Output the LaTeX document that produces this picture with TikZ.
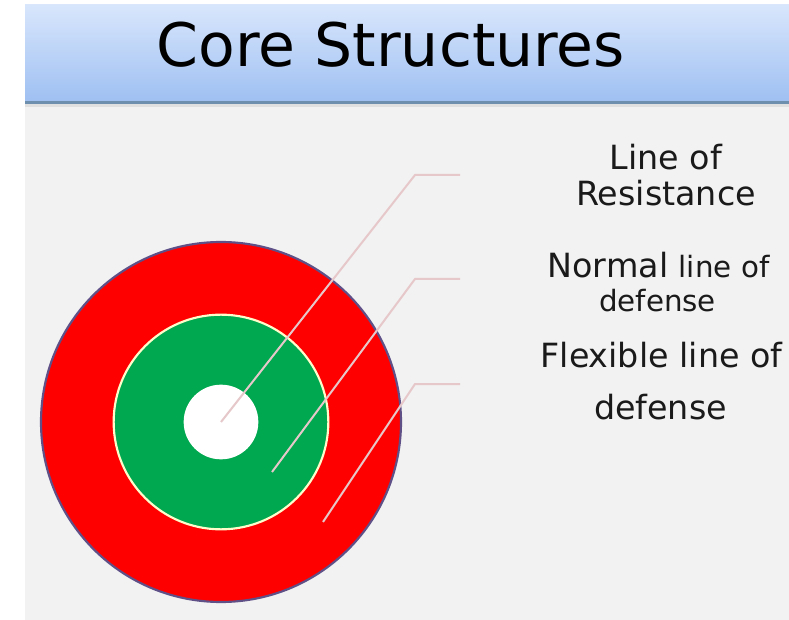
\documentclass[tikz,border=0pt]{standalone}
\usepackage{fontspec}
\setmainfont{DejaVu Sans}
\definecolor{bgpanel}{HTML}{F2F2F2}
\definecolor{ringred}{HTML}{FF0000}
\definecolor{ringgreen}{HTML}{00A94F}
\definecolor{ringedge}{HTML}{5F5088}
\definecolor{leader}{HTML}{E6C8CA}
\definecolor{headtop}{HTML}{D8E6FC}
\definecolor{headbot}{HTML}{9FC0F2}
\definecolor{headline}{HTML}{6F8FAF}
\definecolor{inktext}{HTML}{1A1A1A}
\tikzset{
 px/.style={x=0.75pt,y=-0.75pt},
 leaderline/.style={draw=leader,line width=1.5pt},
 lab/.style={align=center,text=inktext,inner sep=0pt},
 bigtext/.style={lab,font=\fontsize{25}{30}\selectfont},
 smalltext/.style={lab,font=\fontsize{22}{26}\selectfont},
}
\begin{document}
\begin{tikzpicture}[px]
\useasboundingbox (0,0) rectangle (789,620);
\fill[white] (0,0) rectangle (789,620);
\fill[bgpanel] (25,100) rectangle (789,620);
\shade[top color=headtop,bottom color=headbot] (25,5) rectangle (789,101);
\fill[headline] (25,101) rectangle (789,104);
\fill[black!12] (25,104) rectangle (789,107);
\node[lab,text=black,font=\fontsize{45}{52}\selectfont] (title) at (391,45) {Core Structures};
\node[circle,draw=ringedge,line width=1.6pt,fill=ringred,inner sep=0pt,minimum size=270pt] (outer) at (221,422) {};
\node[circle,draw=white!80!yellow,line width=1.6pt,fill=ringgreen,inner sep=0pt,minimum size=161pt] (mid) at (221,422) {};
\node[circle,fill=white,inner sep=0pt,minimum size=56pt] (inner) at (221,422) {};
\coordinate (a0) at (221,422);
\coordinate (a1) at (415,175);
\coordinate (a2) at (460,175);
\coordinate (b0) at (272,472);
\coordinate (b1) at (415,279);
\coordinate (b2) at (460,279);
\coordinate (c0) at (323,522);
\coordinate (c1) at (415,384);
\coordinate (c2) at (460,384);
\draw[leaderline] (a0) -- (a1) -- (a2);
\draw[leaderline] (b0) -- (b1) -- (b2);
\draw[leaderline] (c0) -- (c1) -- (c2);
\node[bigtext,anchor=base] (l1a) at (666,170) {Line of};
\node[bigtext,anchor=base] (l1b) at (666,206) {Resistance};
\node[bigtext,anchor=base] (l2a) at (658.5,277.5) {Normal {\fontsize{22}{26}\selectfont line of}};
\node[smalltext,anchor=base] (l2b) at (657.5,311) {defense};
\node[bigtext,anchor=base] (l3a) at (661.5,368) {Flexible line of};
\node[bigtext,anchor=base] (l3b) at (660.5,419) {defense};
\end{tikzpicture}
\end{document}
